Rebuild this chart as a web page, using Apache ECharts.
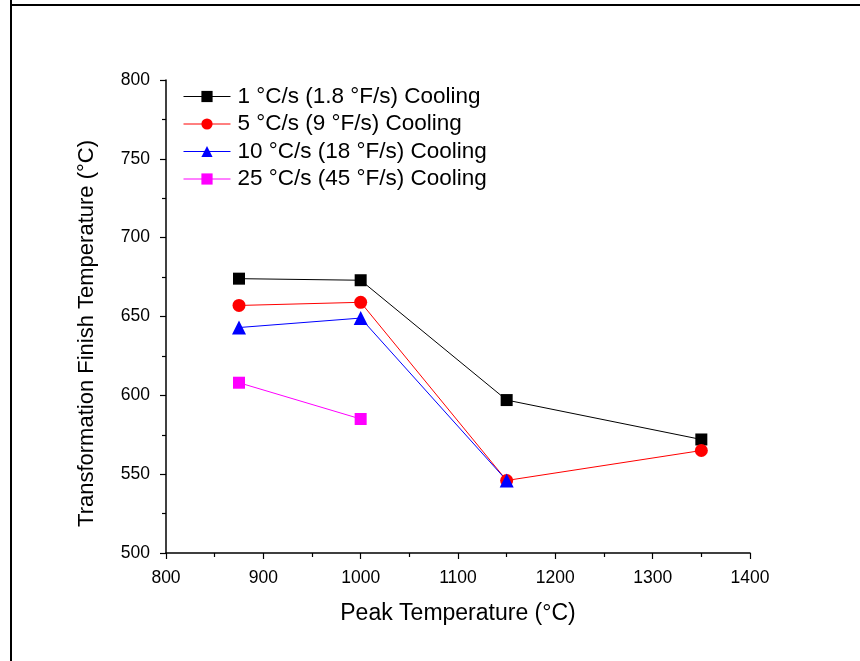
<!DOCTYPE html>
<html>
<head>
<meta charset="utf-8">
<script src="https://cdn.jsdelivr.net/npm/echarts@6/dist/echarts.min.js"></script>
<style>
  html, body { margin: 0; padding: 0; background: #fff; }
  #chart { width: 860px; height: 661px; }
</style>
</head>
<body>
<div id="chart"></div>
<script>
// Peak temperature (°C) of each test
const peakTemps = [875, 1000, 1150, 1350];

// Transformation finish temperature (°C) per cooling rate
const rate1 = [674, 673, 597, 572];
const rate5 = [657, 659, 546, 565];
const rate10 = [643, 649, 546];
const rate25 = [608, 585];

const seriesNames = [
  '1 °C/s (1.8 °F/s) Cooling',
  '5 °C/s (9 °F/s) Cooling',
  '10 °C/s (18 °F/s) Cooling',
  '25 °C/s (45 °F/s) Cooling'
];
const seriesColors = ['#000000', '#ff0000', '#0000ff', '#ff00ff'];

const pairs = (ys) => ys.map((y, i) => [peakTemps[i], y]);

const font = 'Arial, "Liberation Sans", sans-serif';

function makeSeries(name, data, color, symbol, size) {
  return {
    name: name,
    type: 'line',
    data: pairs(data),
    symbol: symbol,
    symbolSize: size,
    color: color,
    lineStyle: { color: color, width: 1 },
    itemStyle: { color: color },
    emphasis: { disabled: true },
    z: 3
  };
}

const axisCommon = {
  type: 'value',
  nameLocation: 'middle',
  axisLine: { show: true, onZero: false, lineStyle: { color: '#000', width: 1.5 } },
  axisTick: { show: true, inside: false, length: 6, lineStyle: { color: '#000', width: 1.2 } },
  minorTick: { show: true, splitNumber: 2, length: 4, lineStyle: { color: '#000', width: 1.2 } },
  splitLine: { show: false }
};

const chart = echarts.init(document.getElementById('chart'), null, { renderer: 'canvas' });

chart.setOption({
  animation: false,
  backgroundColor: '#ffffff',
  textStyle: { fontFamily: font },
  graphic: [
    { type: 'line', shape: { x1: 11, y1: 0, x2: 11, y2: 661 }, style: { stroke: '#000', lineWidth: 2 } },
    { type: 'line', shape: { x1: 10, y1: 5, x2: 860, y2: 5 }, style: { stroke: '#000', lineWidth: 2 } }
  ],
  grid: { left: 166, right: 110, top: 80, bottom: 108, containLabel: false },
  legend: {
    orient: 'vertical',
    left: 178,
    top: 80,
    itemWidth: 47,
    itemHeight: 14,
    itemGap: 4.5,
    textStyle: { fontSize: 22.5, lineHeight: 22.5, color: '#000', fontFamily: font, padding: [0, 0, 0, 2] },
    data: seriesNames.map((n, i) => ({
      name: n,
      lineStyle: { color: seriesColors[i], width: 1 },
      itemStyle: { color: seriesColors[i] }
    }))
  },
  xAxis: Object.assign({}, axisCommon, {
    min: 800,
    max: 1400,
    interval: 100,
    name: 'Peak Temperature (°C)',
    nameGap: 49,
    nameTextStyle: { fontSize: 23, color: '#000', fontFamily: font },
    axisLabel: { fontSize: 17.5, color: '#000', margin: 16, fontFamily: font, formatter: (v) => String(v) }
  }),
  yAxis: Object.assign({}, axisCommon, {
    min: 500,
    max: 800,
    interval: 50,
    name: 'Transformation Finish Temperature (°C)',
    nameGap: 68,
    nameTextStyle: { fontSize: 22, color: '#000', fontFamily: font, padding: [0, 34, 0, 0] },
    axisLabel: { fontSize: 17.5, color: '#000', margin: 16, fontFamily: font, formatter: (v) => String(v) }
  }),
  series: [
    makeSeries(seriesNames[0], rate1, seriesColors[0], 'rect', 12),
    makeSeries(seriesNames[1], rate5, seriesColors[1], 'circle', 13),
    makeSeries(seriesNames[2], rate10, seriesColors[2], 'triangle', 14),
    makeSeries(seriesNames[3], rate25, seriesColors[3], 'rect', 12)
  ]
});
</script>
</body>
</html>
